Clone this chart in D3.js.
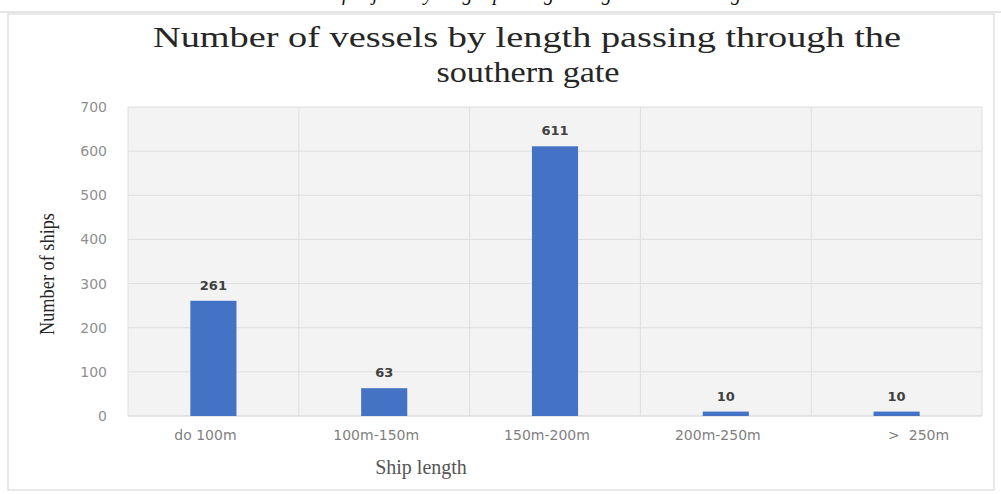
<!DOCTYPE html>
<html>
<head>
<meta charset="utf-8">
<script src="https://cdn.jsdelivr.net/npm/d3@7"></script>
<style>
  html, body { margin: 0; padding: 0; background: #fff; }
  svg { display: block; }
</style>
</head>
<body>
<script>
// Ship counts by length class at the southern gate
const categories = ["do 100m", "100m-150m", "150m-200m", "200m-250m", ">  250m"];
const shipCounts = [261, 63, 611, 10, 10];
const yTicks = [0, 100, 200, 300, 400, 500, 600, 700];

const W = 1001, H = 494;
const plot = { left: 128, right: 982, top: 107, bottom: 416 };

const svg = d3.select("body").append("svg")
  .attr("width", W).attr("height", H);

// Caption line of the surrounding document, cut by the page edge
svg.append("text")
  .attr("x", 514).attr("y", 0)
  .attr("text-anchor", "middle")
  .attr("font-family", "Liberation Serif, Times New Roman, serif")
  .attr("font-style", "italic")
  .attr("font-size", 20)
  .attr("fill", "#111")
  .text("Number of objects by length passing through the southern gate");

svg.append("line")
  .attr("x1", 0).attr("x2", W).attr("y1", 12).attr("y2", 12)
  .attr("stroke", "#e4e4e4").attr("stroke-width", 2);

// Chart frame
svg.append("rect")
  .attr("x", 8).attr("y", 14).attr("width", 986).attr("height", 476)
  .attr("fill", "#fff").attr("stroke", "#e2e2e2").attr("stroke-width", 1.5);

const x = d3.scaleBand().domain(categories).range([plot.left, plot.right]).padding(0);
const y = d3.scaleLinear().domain([0, 700]).range([plot.bottom, plot.top]);

// Plot area background
svg.append("rect")
  .attr("x", plot.left).attr("y", plot.top)
  .attr("width", plot.right - plot.left).attr("height", plot.bottom - plot.top)
  .attr("fill", "#f3f3f3");

// Horizontal gridlines
svg.append("g").selectAll("line").data(yTicks).join("line")
  .attr("x1", plot.left).attr("x2", plot.right)
  .attr("y1", d => y(d)).attr("y2", d => y(d))
  .attr("stroke", d => d === 0 ? "#d0d0d0" : "#dedede").attr("stroke-width", 1);

// Vertical gridlines at category boundaries
const bounds = categories.map(c => x(c)).concat([plot.right]);
svg.append("g").selectAll("line").data(bounds).join("line")
  .attr("x1", d => d).attr("x2", d => d)
  .attr("y1", plot.top).attr("y2", plot.bottom)
  .attr("stroke", "#dedede").attr("stroke-width", 1);

// Y axis tick labels
const yAxis = d3.axisLeft(y).tickValues(yTicks).tickSize(0).tickPadding(21);
const gy = svg.append("g").attr("transform", `translate(${plot.left},0)`).call(yAxis);
gy.select(".domain").remove();
gy.selectAll("text")
  .attr("font-family", "DejaVu Sans, sans-serif")
  .attr("font-size", 14)
  .attr("fill", "#8f8f8f");

// X axis tick labels (the last one sits right of its band centre)
const xAxis = d3.axisBottom(x).tickSize(0).tickPadding(14);
const gx = svg.append("g").attr("transform", `translate(0,${plot.bottom})`).call(xAxis);
gx.select(".domain").remove();
gx.selectAll("text")
  .attr("font-family", "DejaVu Sans, sans-serif")
  .attr("font-size", 14)
  .attr("dx", (d, i) => i === categories.length - 1 ? 22 : -8)
  .attr("fill", "#7f7f7f")
  .style("white-space", "pre");

// Bars
const barW = x.bandwidth() * 0.27;
svg.append("g").selectAll("rect").data(shipCounts).join("rect")
  .attr("x", (d, i) => x(categories[i]) + x.bandwidth() / 2 - barW / 2)
  .attr("y", d => y(d))
  .attr("width", barW)
  .attr("height", d => y(0) - y(d))
  .attr("fill", "#4472c4");

// Value labels
svg.append("g").selectAll("text").data(shipCounts).join("text")
  .attr("x", (d, i) => x(categories[i]) + x.bandwidth() / 2)
  .attr("y", d => y(d) - 11)
  .attr("text-anchor", "middle")
  .attr("font-family", "DejaVu Sans, sans-serif")
  .attr("font-weight", "bold")
  .attr("font-size", 13)
  .attr("fill", "#404040")
  .text(d => d);

// Title, two lines
const title = svg.append("text")
  .attr("text-anchor", "middle")
  .attr("font-family", "Liberation Serif, Times New Roman, serif")
  .attr("font-size", 30)
  .attr("fill", "#262626");
title.append("tspan").attr("x", 527).attr("y", 47)
  .attr("textLength", 748).attr("lengthAdjust", "spacingAndGlyphs")
  .text("Number of vessels by length passing through the");
title.append("tspan").attr("x", 528).attr("y", 82)
  .attr("textLength", 183).attr("lengthAdjust", "spacingAndGlyphs")
  .text("southern gate");

// Axis titles
svg.append("text")
  .attr("transform", "translate(54,274) rotate(-90)")
  .attr("text-anchor", "middle")
  .attr("font-family", "Liberation Serif, Times New Roman, serif")
  .attr("font-size", 22)
  .attr("textLength", 122).attr("lengthAdjust", "spacingAndGlyphs")
  .attr("fill", "#262626")
  .text("Number of ships");

svg.append("text")
  .attr("x", 421).attr("y", 474)
  .attr("text-anchor", "middle")
  .attr("font-family", "Liberation Serif, Times New Roman, serif")
  .attr("font-size", 20)
  .attr("fill", "#555")
  .text("Ship length");
</script>
</body>
</html>
